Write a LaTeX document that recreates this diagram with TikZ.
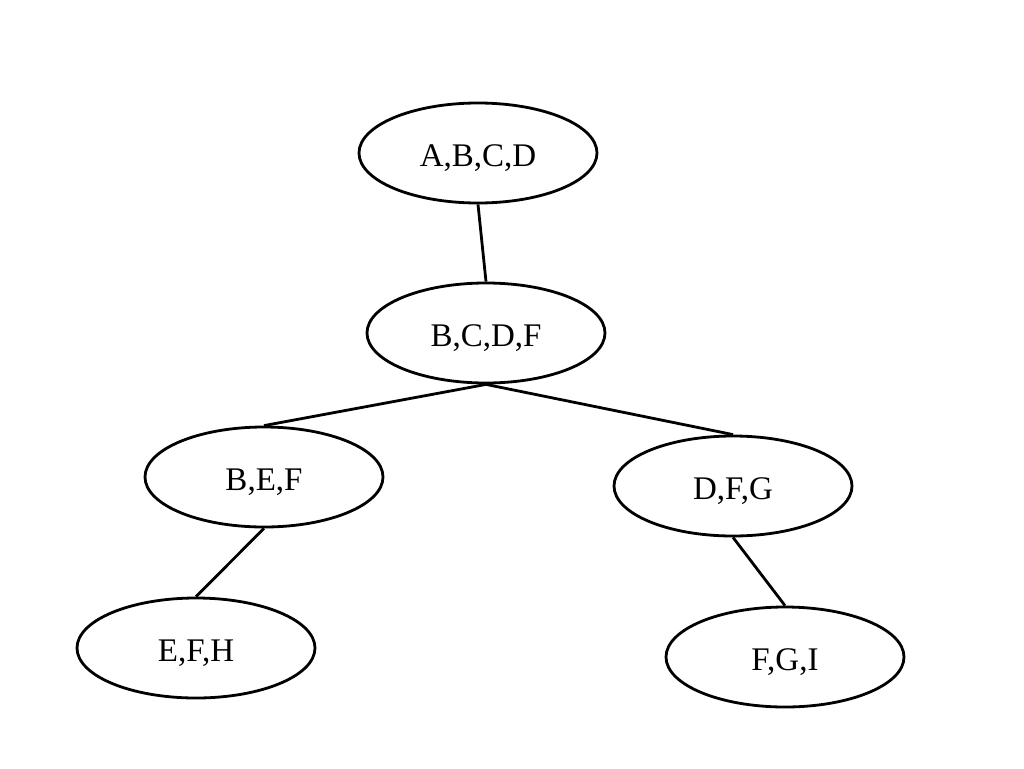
\documentclass[tikz,border=0pt]{standalone}
\usepackage{fontspec}
\setmainfont{Liberation Serif}
\usetikzlibrary{shapes.geometric}
\begin{document}
\begin{tikzpicture}[x=1pt,y=-1pt,
  bag/.style={ellipse,draw,line width=2.8pt,minimum width=238pt,minimum height=100pt,inner sep=0pt,text height=27pt,text depth=0pt,font=\fontsize{33}{38}\selectfont},
  link/.style={line width=2.8pt}]
\useasboundingbox (0,0) rectangle (1024,768);
\node[bag] (abcd) at (478,153) {A,B,C,D};
\node[bag] (bcdf) at (486,333) {B,C,D,F};
\node[bag] (bef) at (264,477) {B,E,F};
\node[bag] (dfg) at (733,486) {D,F,G};
\node[bag] (efh) at (196,648) {E,F,H};
\node[bag] (fgi) at (785,657) {F,G,I};
\draw[link] (abcd.south) -- (bcdf.north);
\draw[link] (bcdf.south) -- (bef.north);
\draw[link] (bcdf.south) -- (dfg.north);
\draw[link] (bef.south) -- (efh.north);
\draw[link] (dfg.south) -- (fgi.north);
\end{tikzpicture}
\end{document}
